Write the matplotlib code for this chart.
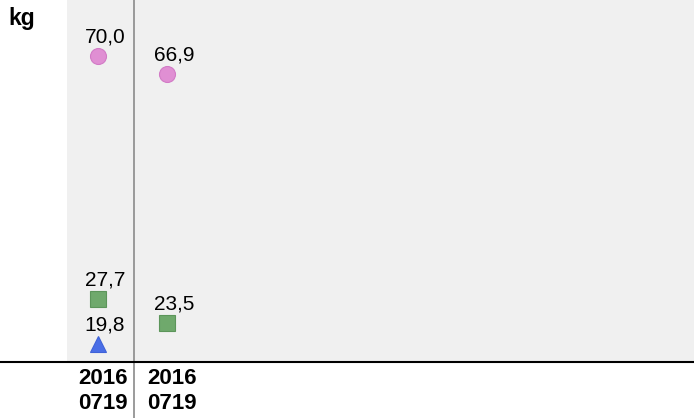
import matplotlib
matplotlib.use("Agg")
import matplotlib.pyplot as plt
import matplotlib.transforms as mtransforms

plt.rcParams['font.family'] = ['Liberation Sans', 'DejaVu Sans']

categories = ["2016\n0719", "2016\n0719"]
circle_vals = [70.0, 66.9]
square_vals = [27.7, 23.5]
triangle_vals = [19.8, None]

fig = plt.figure(figsize=(6.94, 4.18), dpi=100)
ax = fig.add_axes([67/694, 1 - 362/418, 1 - 67/694, 362/418])
ax.set_facecolor('#f0f0f0')
ax.set_xlim(-0.449, 8.638)
ax.set_ylim(16.66, 79.76)
for s in ax.spines.values():
    s.set_visible(False)
ax.set_xticks([])
ax.set_yticks([])

xs = list(range(len(categories)))

def label(x, y):
    off = mtransforms.offset_copy(ax.transData, fig=fig, x=7, y=9, units='dots')
    ax.text(x, y, f"{y:.1f}".replace('.', ','), transform=off, ha='center', va='bottom',
            fontsize=15, color='black')

for x, v in zip(xs, circle_vals):
    ax.plot(x, v, 'o', ms=11.5, color='#e08fd3', mec='#d27ac6', mew=0.8)
    label(x, v)
for x, v in zip(xs, square_vals):
    ax.plot(x, v, 's', ms=11, color='#6fa96c', mec='#5c955a', mew=0.8)
    label(x, v)
for x, v in zip(xs, triangle_vals):
    if v is None:
        continue
    ax.plot(x, v, '^', ms=11.5, color='#4a6ee6', mec='#3f62d8', mew=0.8)
    label(x, v)

# vertical separator line through axes and label area
fig.add_artist(plt.Line2D([134/694, 134/694], [0, 1], transform=fig.transFigure,
                          color='#8a8a8a', lw=1.2))
# bottom black baseline across full width
fig.add_artist(plt.Line2D([0, 1], [1 - 362/418, 1 - 362/418], transform=fig.transFigure,
                          color='black', lw=1.5))

# category labels
for x, c in zip(xs, categories):
    off = mtransforms.offset_copy(ax.transData, fig=fig, x=5, y=0, units='dots')
    tr = mtransforms.blended_transform_factory(off, fig.transFigure)
    fig.text(x, 1 - 391/418, c, transform=tr, ha='center', va='center',
             fontsize=16, fontweight='bold', linespacing=1.25)

fig.text(8/694, 1 - 19/418, "kg", ha='left', va='center', fontsize=16.5, fontweight='bold')

fig.savefig("out.png", dpi=100)
